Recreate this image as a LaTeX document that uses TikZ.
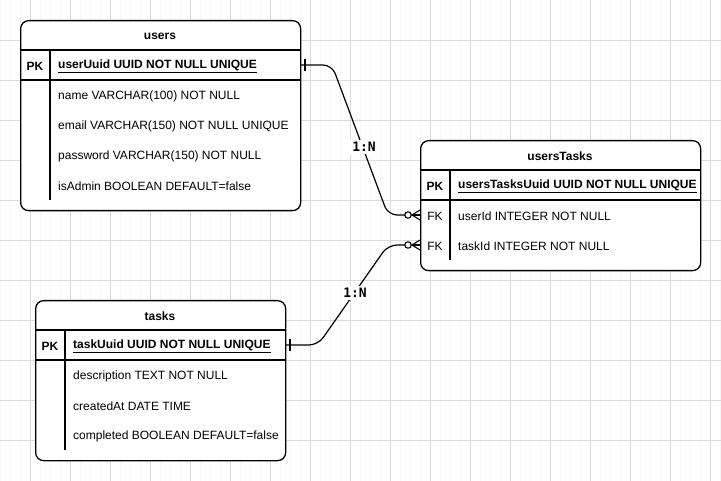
\documentclass[tikz,border=0pt]{standalone}
\usepackage{fontspec}
\setmainfont{Liberation Sans}
\newfontfamily\monofnt{DejaVu Sans Mono}
\begin{document}
\begin{tikzpicture}[x=1pt,y=-1pt,
  tbl/.style={draw=black, line width=1.3pt, rounded corners=8pt, inner sep=0pt, anchor=north west},
  sep/.style={draw=black, line width=1.2pt},
  hdr/.style={font=\fontsize{12}{14}\selectfont\bfseries, inner sep=0pt, yshift=-1pt},
  pk/.style={font=\fontsize{12}{14}\selectfont\bfseries, inner sep=0pt, yshift=-1pt},
  fk/.style={font=\fontsize{12}{14}\selectfont, inner sep=0pt, yshift=-1pt},
  fld/.style={font=\fontsize{12}{14}\selectfont, inner sep=0pt, anchor=west, yshift=-1pt},
  key/.style={font=\fontsize{12}{14}\selectfont\bfseries, inner sep=0pt, anchor=west, yshift=-1pt},
  conn/.style={draw=black, line width=1.2pt, rounded corners=9pt},
  mk/.style={draw=black, line width=1.1pt},
  lbl/.style={font=\fontsize{13}{15}\selectfont\monofnt\bfseries, fill=white, inner sep=2pt}
]
\useasboundingbox (0,0) rectangle (721,481);
\fill[white] (0,0) rectangle (721,481);
% grid
\draw[color=black!3, line width=0.8pt] (0,0) grid[step=10] (721,481);
\foreach \x in {30,70,...,710} \draw[color=black!14, line width=0.9pt] (\x,0) -- (\x,481);
\foreach \y in {40,80,...,470} \draw[color=black!14, line width=0.9pt] (0,\y) -- (721,\y);

% ---------- users ----------
\node[tbl, fill=white, minimum width=280, minimum height=190] (users) at (20,20) {};
\draw[sep] (20,50) -- (300,50);
\draw[sep] (20,80) -- (300,80);
\draw[sep] (50,50) -- (50,200);
\node[hdr] (usersH) at (160,35) {users};
\node[pk] (usersPK) at (35,65) {PK};
\node[key] (u0) at (58,65) {\underline{userUuid UUID NOT NULL UNIQUE}};
\node[fld] (u1) at (58,95) {name VARCHAR(100) NOT NULL};
\node[fld] (u2) at (58,125) {email VARCHAR(150) NOT NULL UNIQUE};
\node[fld] (u3) at (58,155) {password VARCHAR(150) NOT NULL};
\node[fld] (u4) at (58,185) {isAdmin BOOLEAN DEFAULT=false};

% ---------- usersTasks ----------
\node[tbl, fill=white, minimum width=280, minimum height=130] (ut) at (420,140) {};
\draw[sep] (420,170) -- (700,170);
\draw[sep] (420,200) -- (700,200);
\draw[sep] (450,170) -- (450,260);
\node[hdr] (utH) at (560,155) {usersTasks};
\node[pk] (utPK) at (435,185) {PK};
\node[fk] (utFK1) at (435,215) {FK};
\node[fk] (utFK2) at (435,245) {FK};
\node[key] (ut0) at (458,185) {\underline{usersTasksUuid UUID NOT NULL UNIQUE}};
\node[fld] (ut1) at (458,215) {userId INTEGER NOT NULL};
\node[fld] (ut2) at (458,245) {taskId INTEGER NOT NULL};

% ---------- tasks ----------
\node[tbl, fill=white, minimum width=250, minimum height=160] (tasks) at (35,300) {};
\draw[sep] (35,330) -- (285,330);
\draw[sep] (35,360) -- (285,360);
\draw[sep] (65,330) -- (65,450);
\node[hdr] (tasksH) at (160,315) {tasks};
\node[pk] (tasksPK) at (50,345) {PK};
\node[key] (t0) at (73,345) {\underline{taskUuid UUID NOT NULL UNIQUE}};
\node[fld] (t1) at (73,375) {description TEXT NOT NULL};
\node[fld] (t2) at (73,405) {createdAt DATE TIME};
\node[fld] (t3) at (73,435) {completed BOOLEAN DEFAULT=false};

% ---------- connectors ----------
\coordinate (aS) at (300,65);
\coordinate (aE) at (420,215);
\coordinate (bS) at (285,345);
\coordinate (bE) at (420,245);

\draw[conn] (aS) -- (332,65) -- (388,215) -- (aE);
\draw[conn] (bS) -- (318,345) -- (388,245) -- (bE);

% one markers
\draw[mk] ([xshift=5]aS) ++(0,-6) -- ++(0,12);
\draw[mk] ([xshift=5]bS) ++(0,-6) -- ++(0,12);
% zero-to-many markers
\foreach \e in {aE,bE}{
  \draw[mk, fill=white] ([xshift=-12]\e) circle (3.2);
  \draw[mk] ([xshift=-8]\e) -- ([yshift=-5]\e);
  \draw[mk] ([xshift=-8]\e) -- (\e);
  \draw[mk] ([xshift=-8]\e) -- ([yshift=5]\e);
}

% labels
\node[lbl] (l1) at (364,147) {1:N};
\node[lbl] (l2) at (355,293) {1:N};
\end{tikzpicture}
\end{document}
